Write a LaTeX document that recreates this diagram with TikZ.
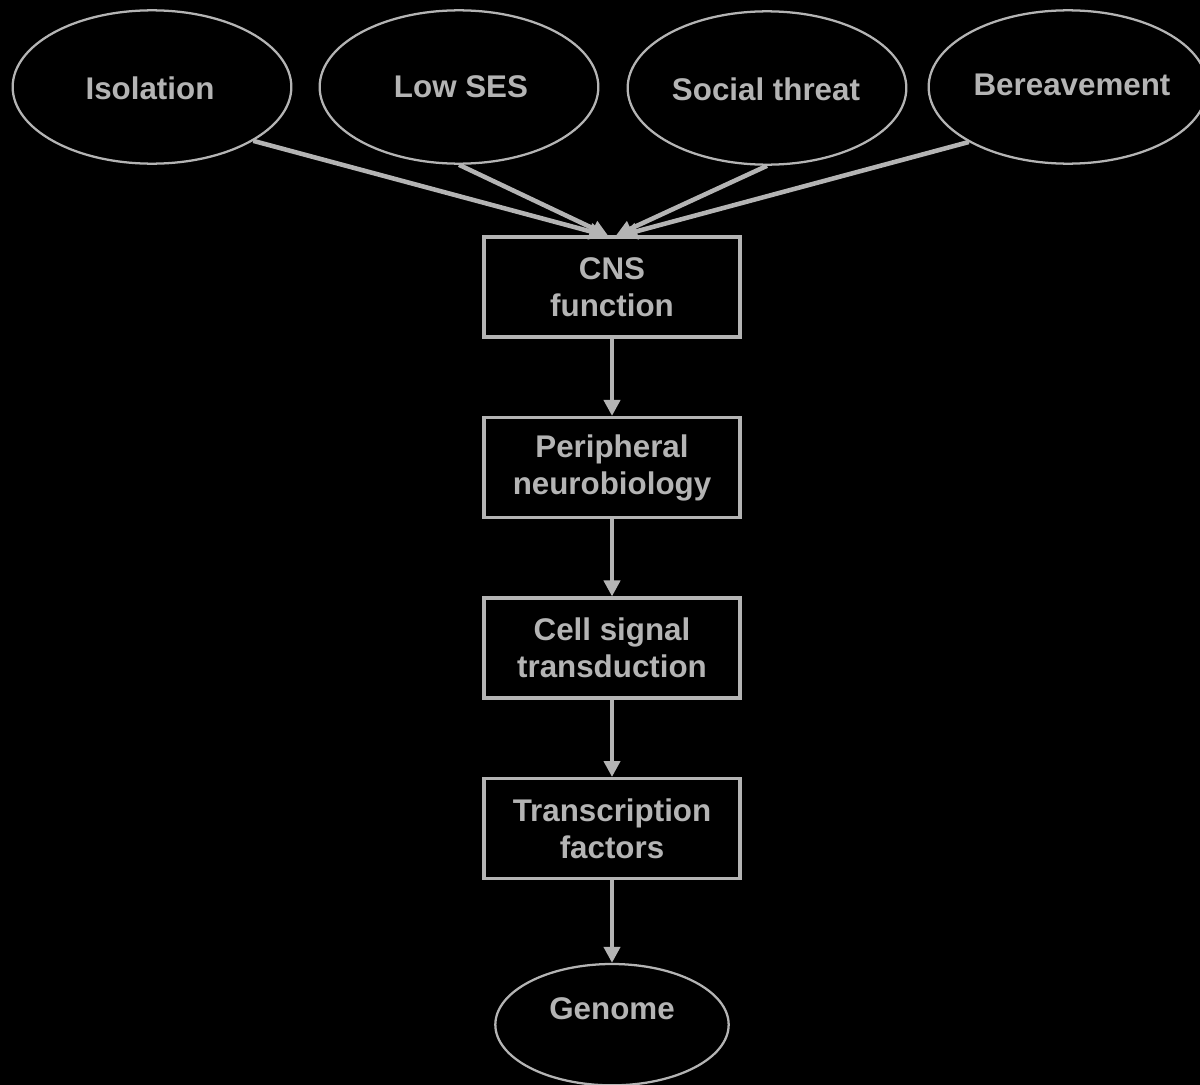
\documentclass[tikz,border=0pt]{standalone}
\usepackage{fontspec}
\setmainfont{Liberation Sans}
\usepackage{tikz}
\usetikzlibrary{positioning,shapes.geometric,arrows.meta}

\definecolor{fg}{RGB}{180,180,180}

\tikzset{
    cause/.style={ellipse, draw=fg, line width=1.7pt, minimum width=209pt, minimum height=115pt, inner sep=0pt},
    stage/.style={rectangle, draw=fg, line width=2.4pt, minimum width=192pt, minimum height=75pt, align=center, inner sep=0pt},
    label/.style={text=fg, font=\fontsize{23.5}{27.75}\selectfont\bfseries, align=center},
    link/.style={draw=fg, line width=3.4pt, -{Triangle[length=12pt,width=12pt]}}
}

\begin{document}
\begin{tikzpicture}[x=0.75pt, y=-0.75pt]
            \fill[black] (0,0) rectangle (1200,1085);
            \useasboundingbox (0,0) rectangle (1200,1085);

            \node[cause] (iso) at (152,87) {};
            \node[cause] (ses) at (459,87) {};
            \node[cause] (thr) at (767,88) {};
            \node[cause] (ber) at (1068,87) {};
            \node[label] at (150,88) {Isolation};
            \node[label] at (461,87) {Low SES};
            \node[label] at (766,89) {Social threat};
            \node[label] at (1072,85) {Bereavement};

            \node[stage, label] (cns) at (612,287) {CNS\\function};
            \node[stage, label, below=58pt of cns] (per) {Peripheral\\neurobiology};
            \node[stage, label, below=58pt of per] (cell) {Cell signal\\transduction};
            \node[stage, label, below=58pt of cell] (tf) {Transcription\\factors};
            \node[cause, minimum width=175pt, minimum height=91pt, below=62pt of tf] (gen) {};
            \node[label] at ([yshift=12pt]gen.center) {Genome};

            \draw[link] (iso.-28) -- ([xshift=-5pt]cns.north);
            \draw[link] (ses.south) -- ([xshift=-3pt]cns.north);
            \draw[link] (thr.south) -- ([xshift=3pt]cns.north);
            \draw[link] (ber.-151) -- ([xshift=7pt]cns.north);
            \draw[link] (cns) -- (per);
            \draw[link] (per) -- (cell);
            \draw[link] (cell) -- (tf);
            \draw[link] (tf) -- (gen);
\end{tikzpicture}
\end{document}
